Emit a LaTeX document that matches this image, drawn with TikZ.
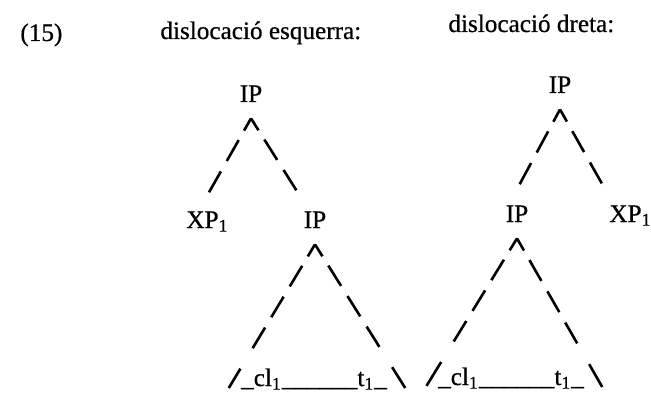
\documentclass[tikz,border=0pt]{standalone}
\usepackage{fontspec}
\setmainfont{Liberation Serif}[FakeBold=0.6]
\usetikzlibrary{positioning, calc}

\begin{document}
\begin{tikzpicture}[
    x=0.5pt, y=-0.5pt,
    every node/.style={font=\fontsize{12.6}{15}\selectfont},
    cat/.style={inner xsep=2pt, inner ysep=8pt, anchor=base},
    leaf/.style={inner sep=0pt, anchor=base},
    br/.style={line width=1.3pt, dash pattern=on 7pt off 5.5pt on 12pt off 6pt on 12pt off 6pt on 12pt off 12pt on 14pt}
]
\newcommand{\sub}[1]{\textsubscript{#1}}
\newcommand{\gap}{\_cl\sub{1}\_\_\_\_\_\_t\sub{1}\_}
\useasboundingbox (0,0) rectangle (651,395);

% headings
\node[leaf, anchor=base west] (ex) at (20,41) {(15)};
\node[leaf, anchor=base west] (hdL) at (160,39) {dislocació esquerra:};
\node[leaf, anchor=base west] (hdR) at (448,32) {dislocació dreta:};

% left dislocation
\node[cat] (ipA) at (251,102) {IP};
\node[cat, anchor=base west] (xpA) at (182,228) {XP\sub{1}};
\node[cat] (ipB) at (315,228) {IP};
\node[leaf] (triA) at (314,386) {\gap};
\draw[br] (ipA.south) -- (xpA.north);
\draw[br] (ipA.south) -- (ipB.north west);
\draw[br] (ipB.south) -- ($(triA.base west)+(-12,2)$);
\draw[br] (ipB.south) -- ($(triA.base east)+(18,2)$);

% right dislocation
\node[cat] (ipC) at (560,93) {IP};
\node[cat] (ipD) at (517,222) {IP};
\node[cat, anchor=base west] (xpB) at (605,222) {XP\sub{1}};
\node[leaf] (triB) at (511,385) {\gap};
\draw[br] (ipC.south) -- (ipD.north);
\draw[br] (ipC.south) -- (xpB.north west);
\draw[br] (ipD.south) -- ($(triB.base west)+(-12,2)$);
\draw[br] (ipD.south) -- ($(triB.base east)+(18,2)$);
\end{tikzpicture}
\end{document}
